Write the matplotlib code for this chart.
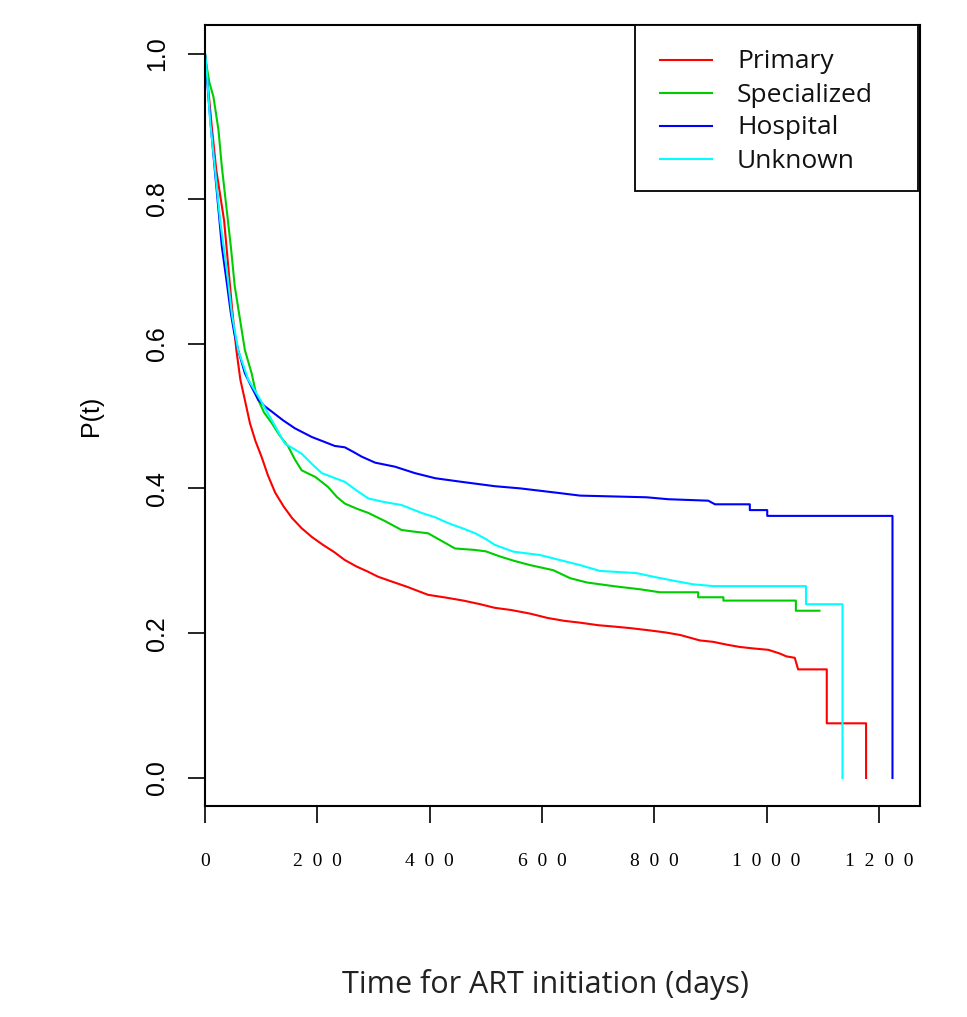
import matplotlib
matplotlib.use("Agg")
import matplotlib.pyplot as plt
from matplotlib.patches import Rectangle
from matplotlib.lines import Line2D

# Survival curves (days, P(t)).
# Dense parts are kept as polylines, visible steps as repeated times.
primary_t = [0, 2, 6, 12, 20, 28, 34, 41, 48, 56, 63, 71, 80, 90, 101, 112, 125,
             140, 155, 172, 190, 210, 230, 249, 270, 290, 308, 330, 360, 397,
             430, 460, 490, 516, 545, 579, 610, 640, 668, 700, 730, 757, 790,
             820, 846, 881, 905, 930, 952, 975, 1003, 1023, 1035, 1050, 1056,
             1107, 1107, 1177, 1177]
primary_p = [1.0, 0.985, 0.95, 0.90, 0.84, 0.80, 0.77, 0.71, 0.65, 0.59, 0.55,
             0.522, 0.49, 0.465, 0.443, 0.418, 0.394, 0.375, 0.359, 0.345,
             0.333, 0.322, 0.312, 0.301, 0.292, 0.285, 0.278, 0.272, 0.264,
             0.253, 0.249, 0.245, 0.240, 0.235, 0.232, 0.227, 0.221, 0.217,
             0.2145, 0.211, 0.209, 0.207, 0.204, 0.201, 0.1975, 0.190, 0.188,
             0.184, 0.181, 0.179, 0.177, 0.172, 0.168, 0.166, 0.150, 0.150,
             0.0755, 0.0755, 0.0]

special_t = [0, 2, 8, 15, 24, 30, 38, 46, 53, 62, 71, 83, 92, 105, 119, 133, 148,
             160, 172, 185, 196, 219, 235, 249, 270, 291, 320, 350, 375, 397,
             420, 445, 480, 500, 525, 550, 579, 620, 650, 680, 727, 775, 810,
             878, 878, 923, 923, 1052, 1052, 1094]
special_p = [1.0, 0.987, 0.96, 0.941, 0.895, 0.844, 0.789, 0.734, 0.679, 0.635,
             0.591, 0.559, 0.527, 0.505, 0.490, 0.473, 0.458, 0.440, 0.425,
             0.420, 0.416, 0.402, 0.388, 0.379, 0.372, 0.366, 0.355, 0.3425,
             0.340, 0.338, 0.328, 0.317, 0.315, 0.313, 0.306, 0.300, 0.294,
             0.287, 0.276, 0.270, 0.265, 0.2606, 0.2565, 0.2565, 0.2496,
             0.2496, 0.245, 0.245, 0.231, 0.231]

hospital_t = [0, 2, 6, 12, 18, 24, 30, 39, 46, 52, 59, 71, 83, 95, 107, 119, 139,
              160, 190, 210, 231, 249, 265, 279, 303, 338, 374, 410, 457, 516,
              561, 626, 668, 786, 825, 896, 908, 970, 970, 1001, 1001, 1224,
              1224]
hospital_p = [1.0, 0.985, 0.941, 0.886, 0.835, 0.785, 0.734, 0.683, 0.642,
              0.615, 0.591, 0.559, 0.540, 0.522, 0.513, 0.506, 0.494, 0.483,
              0.471, 0.465, 0.4586, 0.4567, 0.450, 0.4438, 0.4355, 0.430,
              0.421, 0.414, 0.409, 0.403, 0.400, 0.394, 0.390, 0.3877, 0.385,
              0.383, 0.378, 0.378, 0.370, 0.370, 0.362, 0.362, 0.0]

unknown_t = [0, 2, 9, 18, 27, 39, 48, 59, 77, 95, 119, 142, 172, 190, 208, 249,
             270, 291, 320, 350, 386, 410, 433, 458, 481, 500, 516, 549, 596,
             632, 668, 703, 768, 798, 834, 869, 905, 1070, 1070, 1135, 1135]
unknown_p = [1.0, 0.99, 0.909, 0.84, 0.77, 0.70, 0.64, 0.591, 0.55, 0.527,
             0.494, 0.462, 0.448, 0.434, 0.421, 0.409, 0.397, 0.386, 0.381,
             0.377, 0.366, 0.360, 0.352, 0.345, 0.338, 0.330, 0.322, 0.3126,
             0.308, 0.301, 0.294, 0.286, 0.283, 0.278, 0.2725, 0.2675, 0.265,
             0.265, 0.240, 0.240, 0.0]

series = [
    ("Primary", primary_t, primary_p, "#FF0000"),
    ("Specialized", special_t, special_p, "#00CD00"),
    ("Hospital", hospital_t, hospital_p, "#0000FF"),
    ("Unknown", unknown_t, unknown_p, "#00FFFF"),
]

x_ticks = [0, 200, 400, 600, 800, 1000, 1200]
y_ticks = [0.0, 0.2, 0.4, 0.6, 0.8, 1.0]

W, H = 967, 1017


def fx(x):
    return x / W


def fy(y):
    return 1 - y / H


fig = plt.figure(figsize=(W / 100, H / 100), dpi=100)
ax = fig.add_axes([fx(205), fy(806), (920 - 205) / W, (806 - 25) / H])

for name, t, p, col in series:
    ax.plot(t, p, color=col, lw=1.5, label=name)

ax.set_xlim(0, 1273)
ax.set_ylim(-0.0387, 1.040)

ax.set_xticks(x_ticks)
ax.set_xticklabels(["\u2002".join(str(v)) for v in x_ticks],
                   family=["Liberation Serif", "DejaVu Serif"], fontsize=14)
ax.set_yticks(y_ticks)
ax.set_yticklabels([f"{v:.1f}" for v in y_ticks],
                   family="Liberation Sans", fontsize=18,
                   rotation=90, va="center")
ax.tick_params(axis="x", length=12, width=1.2, pad=22)
ax.tick_params(axis="y", length=12, width=1.2, pad=14)
for s in ax.spines.values():
    s.set_linewidth(1.5)

ax.set_ylabel("P(t)", family="Liberation Sans", fontsize=18, labelpad=30)
fig.text(fx(545), fy(985), "Time for ART initiation (days)",
         ha="center", va="center", family="Open Sans", fontsize=22,
         color="#222222")

# legend box drawn by hand to match the R layout
fig.add_artist(Rectangle((fx(635), fy(191)), (918 - 635) / W, (191 - 25) / H,
                         transform=fig.transFigure, facecolor="white",
                         edgecolor="black", lw=1.3, zorder=5))
for i, (name, t, p, col) in enumerate(series):
    yy = fy(60 + 33 * i)
    fig.add_artist(Line2D([fx(660), fx(712)], [yy, yy], color=col, lw=1.5,
                          transform=fig.transFigure, zorder=6))
    fig.text(fx(737), fy(62 + 33 * i), name, ha="left", va="center",
             family="Open Sans", fontsize=19, color="#111111", zorder=6)

fig.savefig("out.png", dpi=100)
